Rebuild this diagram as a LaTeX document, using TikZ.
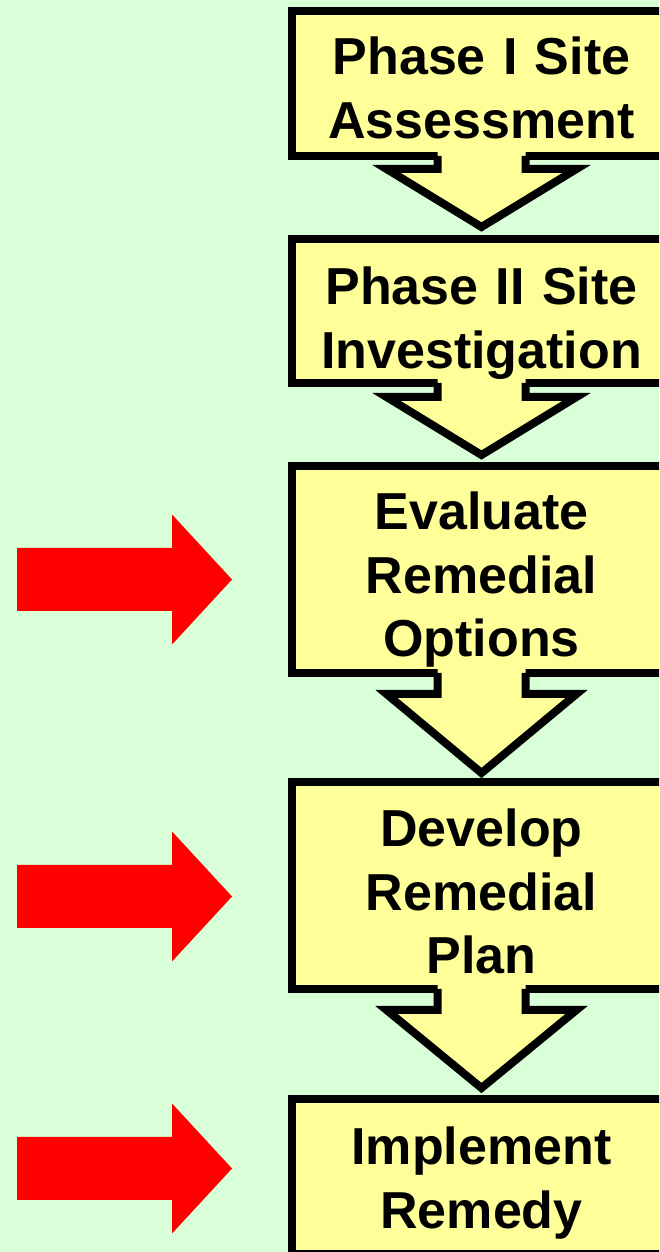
\documentclass[tikz,border=0pt]{standalone}
\usepackage{fontspec}
\setmainfont{Liberation Sans}
\usetikzlibrary{calc}
\definecolor{bggreen}{RGB}{217,255,217}
\definecolor{boxyellow}{RGB}{255,255,153}
\definecolor{arrowred}{RGB}{255,0,0}
\newcommand\flowarrow[4]{%
  \fill[boxyellow] ($(#1.south)+(-44,4.5)$) -- ($(#1.south)+(-44,-#3)$) -- ($(#1.south)+(-95,-#3)$)
    -- ($(#2.north)+(0,#4)$) -- ($(#1.south)+(95,-#3)$) -- ($(#1.south)+(44,-#3)$)
    -- ($(#1.south)+(44,4.5)$) -- cycle;
  \draw[arrline] ($(#1.south)+(-44,0)$) -- ($(#1.south)+(-44,-#3)$) -- ($(#1.south)+(-95,-#3)$)
    -- ($(#2.north)+(0,#4)$) -- ($(#1.south)+(95,-#3)$) -- ($(#1.south)+(44,-#3)$)
    -- ($(#1.south)+(44,0)$);
}
\newcommand\redblock[1]{%
  \fill[arrowred] (17,#1-31.5) -- (17,#1+31.5) -- (172,#1+31.5) -- (172,#1+65)
    -- (232,#1) -- (172,#1-65) -- (172,#1-31.5) -- cycle;
}
\begin{document}
\begin{tikzpicture}[x=1pt,y=1pt,
  stepbox/.style={draw=black, line width=8pt, fill=boxyellow, minimum width=380pt,
    inner sep=0pt, outer sep=0pt, line join=miter},
  arrline/.style={draw=black, line width=8pt, line join=miter, line cap=butt},
  lbl/.style={font=\fontsize{52}{63.5}\selectfont\bfseries, text width=380pt,
    align=center, inner sep=0pt, anchor=base}]
\useasboundingbox (0,0) rectangle (659,1252);
\clip (0,0) rectangle (659,1252);
\fill[bggreen] (0,0) rectangle (659,1252);

\node[stepbox, minimum height=145pt] (b1) at (481.5,1168.5) {};
\node[stepbox, minimum height=144pt] (b2) at (481.5,941) {};
\node[stepbox, minimum height=207pt] (b3) at (481.5,682.5) {};
\node[stepbox, minimum height=207pt] (b4) at (481.5,366.5) {};
\node[stepbox, minimum height=155pt] (b5) at (481.5,75.5) {};

\flowarrow{b1}{b2}{13}{12}
\flowarrow{b2}{b3}{14}{11}
\flowarrow{b3}{b4}{21}{9}
\flowarrow{b4}{b5}{21}{11}

\node[lbl] (t1) at (481.5,1177) {Phase I Site\\Assessment};
\node[lbl] (t2) at (481.5,947.4) {Phase II Site\\Investigation};
\node[lbl] (t3) at (481.5,722) {Evaluate\\Remedial\\Options};
\node[lbl] (t4) at (481.5,405) {Develop\\Remedial\\Plan};
\node[lbl] (t5) at (481.5,87) {Implement\\Remedy};

\redblock{672.5}
\redblock{355.5}
\redblock{83.5}
\end{tikzpicture}
\end{document}
